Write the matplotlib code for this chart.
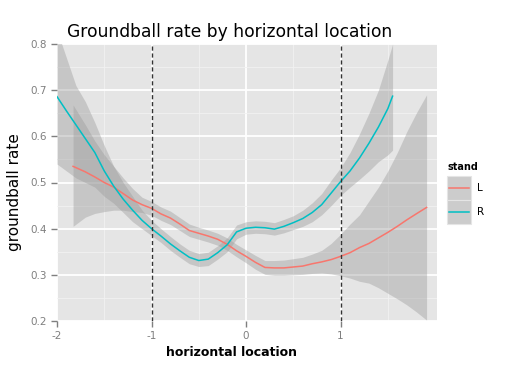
import matplotlib
matplotlib.use("Agg")
import matplotlib.pyplot as plt
from matplotlib.patches import Rectangle
from matplotlib.lines import Line2D

# stand = R
r_x = [-2.0, -1.9, -1.8, -1.7, -1.6, -1.5, -1.4, -1.3, -1.2, -1.1, -1.0, -0.9, -0.8, -0.7, -0.6,
       -0.5, -0.4, -0.3, -0.2, -0.1, 0.0, 0.1, 0.2, 0.3, 0.4, 0.5, 0.6, 0.7, 0.8, 0.9, 1.0,
       1.1, 1.2, 1.3, 1.4, 1.5, 1.55]
r_fit = [0.686, 0.655, 0.625, 0.595, 0.565, 0.525, 0.492, 0.464, 0.440, 0.418, 0.400, 0.384,
         0.367, 0.352, 0.338, 0.331, 0.334, 0.348, 0.365, 0.393, 0.401, 0.403, 0.402, 0.399,
         0.405, 0.413, 0.422, 0.435, 0.452, 0.477, 0.502, 0.525, 0.553, 0.585, 0.620, 0.660, 0.687]
r_lo = [0.540, 0.525, 0.510, 0.500, 0.490, 0.470, 0.455, 0.435, 0.415, 0.400, 0.385, 0.370,
        0.353, 0.338, 0.324, 0.318, 0.320, 0.334, 0.350, 0.378, 0.388, 0.390, 0.389, 0.386,
        0.391, 0.398, 0.405, 0.415, 0.430, 0.450, 0.472, 0.490, 0.507, 0.525, 0.545, 0.560, 0.570]
r_hi = [0.830, 0.770, 0.710, 0.675, 0.630, 0.580, 0.535, 0.500, 0.470, 0.440, 0.418, 0.400,
        0.383, 0.367, 0.353, 0.346, 0.349, 0.363, 0.380, 0.408, 0.415, 0.417, 0.416, 0.413,
        0.420, 0.428, 0.440, 0.456, 0.476, 0.505, 0.532, 0.565, 0.605, 0.650, 0.700, 0.765, 0.800]

# stand = L
l_x = [-1.83, -1.7, -1.6, -1.5, -1.4, -1.3, -1.2, -1.1, -1.0, -0.9, -0.8, -0.7, -0.6, -0.5,
       -0.4, -0.3, -0.2, -0.1, 0.0, 0.1, 0.2, 0.3, 0.4, 0.5, 0.6, 0.7, 0.8, 0.9, 1.0, 1.1,
       1.2, 1.3, 1.4, 1.5, 1.6, 1.7, 1.8, 1.91]
l_fit = [0.535, 0.523, 0.512, 0.500, 0.490, 0.476, 0.462, 0.452, 0.444, 0.432, 0.423, 0.410,
         0.396, 0.390, 0.384, 0.377, 0.366, 0.352, 0.340, 0.327, 0.316, 0.315, 0.315, 0.317,
         0.319, 0.324, 0.328, 0.333, 0.340, 0.348, 0.359, 0.368, 0.380, 0.392, 0.405, 0.419,
         0.432, 0.446]
l_lo = [0.405, 0.425, 0.433, 0.437, 0.440, 0.440, 0.437, 0.435, 0.429, 0.418, 0.409, 0.396,
        0.383, 0.377, 0.371, 0.364, 0.353, 0.339, 0.326, 0.312, 0.301, 0.299, 0.299, 0.300,
        0.301, 0.303, 0.304, 0.302, 0.298, 0.293, 0.286, 0.282, 0.272, 0.260, 0.248, 0.235,
        0.220, 0.202]
l_hi = [0.668, 0.625, 0.590, 0.560, 0.535, 0.510, 0.487, 0.468, 0.459, 0.447, 0.438, 0.424,
        0.410, 0.403, 0.397, 0.390, 0.380, 0.366, 0.354, 0.342, 0.331, 0.331, 0.332, 0.335,
        0.338, 0.345, 0.353, 0.368, 0.388, 0.410, 0.430, 0.460, 0.490, 0.525, 0.565, 0.610,
        0.650, 0.690]

zone_edges = [-1, 1]
x_ticks = [-2, -1, 0, 1]
y_ticks = [0.2, 0.3, 0.4, 0.5, 0.6, 0.7, 0.8]

RED = '#F8766D'
CYAN = '#00BFC4'
W, H = 508, 369

fig = plt.figure(figsize=(W / 100, H / 100), dpi=100)
ax = fig.add_axes([57 / W, (H - 321) / H, 380 / W, 277 / H])
ax.set_facecolor('#E5E5E5')

ax.set_xticks([-1.5, -0.5, 0.5, 1.5], minor=True)
ax.set_yticks([0.25, 0.35, 0.45, 0.55, 0.65, 0.75], minor=True)
ax.grid(which='minor', color='#F2F2F2', lw=0.6)
ax.grid(which='major', color='white', lw=1.3)
ax.set_axisbelow(True)

ax.fill_between(l_x, l_lo, l_hi, color='#999999', alpha=0.4, lw=0, zorder=2)
ax.fill_between(r_x, r_lo, r_hi, color='#999999', alpha=0.4, lw=0, zorder=2)
ax.plot(l_x, l_fit, color=RED, lw=1.1, zorder=3)
ax.plot(r_x, r_fit, color=CYAN, lw=1.1, zorder=3)
for xv in zone_edges:
    ax.axvline(xv, color='#333333', lw=1.0, ls=(0, (3, 2)), zorder=4)

ax.set_xlim(-2.0, 2.02)
ax.set_ylim(0.2, 0.8)
ax.set_xticks(x_ticks)
ax.set_xticklabels([str(v) for v in x_ticks])
ax.set_yticks(y_ticks)
ax.set_yticklabels([f'{v:.1f}' for v in y_ticks])
ax.tick_params(which='major', colors='#7F7F7F', labelsize=7.5, length=4, width=1)
ax.tick_params(which='minor', length=0)
for s in ax.spines.values():
    s.set_visible(False)

ax.set_title('Groundball rate by horizontal location', fontsize=12.3, x=0.455, pad=5)
ax.set_xlabel('horizontal location', fontsize=9, fontweight='bold')
ax.xaxis.set_label_coords(0.458, -0.1155)
ax.xaxis.label.set_va('center')
ax.set_ylabel('groundball rate', fontsize=11)
ax.yaxis.set_label_coords(-0.113, 0.464)
ax.yaxis.label.set_va('center')

# legend drawn by hand like the ggplot guide
def fx(px):
    return px / W

def fy(py):
    return 1 - py / H

fig.text(fx(447), fy(167), 'stand', fontsize=7, fontweight='bold', va='center')
for i, (lab, col) in enumerate([('L', RED), ('R', CYAN)]):
    top = 176 + 24 * i
    fig.add_artist(Rectangle((fx(447), fy(top + 24)), 24 / W, 24 / H,
                             transform=fig.transFigure, facecolor='#CCCCCC',
                             edgecolor='#E5E5E5', lw=0.8))
    fig.add_artist(Line2D([fx(449), fx(469)], [fy(top + 12)] * 2,
                          transform=fig.transFigure, color=col, lw=1.1))
    fig.text(fx(477), fy(top + 12), lab, fontsize=7.5, va='center')

fig.savefig('out.png', dpi=100)
